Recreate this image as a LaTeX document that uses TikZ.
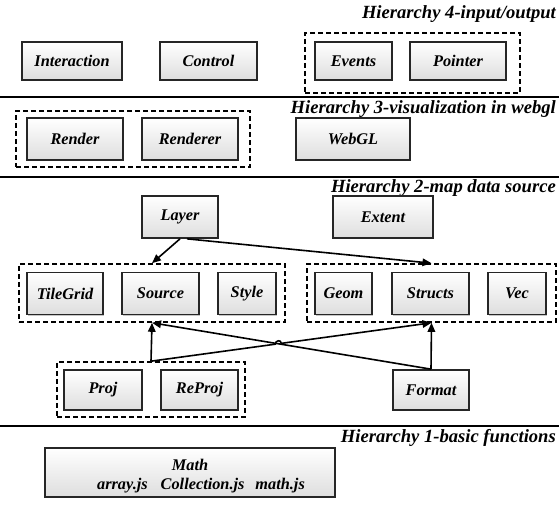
\documentclass[tikz,border=0pt]{standalone}
\usepackage{fontspec}
\setmainfont{Liberation Serif}
\usetikzlibrary{arrows.meta,calc,shadows,intersections}
\begin{document}
\begin{tikzpicture}[x=1pt,y=1pt,
  box/.style={draw=black!85, line width=1.7pt, top color=white, bottom color=black!13,
    drop shadow={shadow xshift=1.4pt, shadow yshift=-1.4pt, fill=black!50, opacity=0.45},
    inner sep=0pt, font=\fontsize{16.3}{19}\selectfont\bfseries\itshape},
  group/.style={draw=black, line width=1.6pt, dash pattern=on 5pt off 3pt, inner sep=0pt},
  sep/.style={line width=2.3pt},
  title/.style={anchor=base east, inner sep=0pt, font=\fontsize{18.6}{21}\selectfont\bfseries\itshape},
  link/.style={line width=1.6pt, -{Triangle[length=9pt,width=7.5pt]}}
]
\useasboundingbox (0,0) rectangle (559,505);

% ---------- Hierarchy 4 ----------
\node[title] (t4) at (556,486) {Hierarchy 4-input/output};
\node[group, minimum width=215pt, minimum height=60pt] (iogrp) at (412.5,442) {};
\node[box, minimum width=100pt, minimum height=38pt] (inter) at (72,444) {Interaction};
\node[box, minimum width=97pt, minimum height=38pt] (ctrl) at (208.5,444) {Control};
\node[box, minimum width=77pt, minimum height=38pt] (events) at (353.5,444) {Events};
\node[box, minimum width=96pt, minimum height=38pt] (pointer) at (458,444) {Pointer};
\draw[sep] (0,408) -- (559,408);

% ---------- Hierarchy 3 ----------
\node[title] (t3) at (556,391) {Hierarchy 3-visualization in webgl};
\node[group, minimum width=234pt, minimum height=56pt] (rgrp) at (133,366) {};
\node[box, minimum width=96pt, minimum height=42pt] (render) at (75,366) {Render};
\node[box, minimum width=96pt, minimum height=42pt] (renderer) at (190,366) {Renderer};
\node[box, minimum width=114pt, minimum height=42pt] (webgl) at (353,366) {WebGL};
\draw[sep] (0,328) -- (559,328);

% ---------- Hierarchy 2 ----------
\node[title] (t2) at (556,312) {Hierarchy 2-map data source};
\node[box, minimum width=76pt, minimum height=42pt] (layer) at (180,288) {Layer};
\node[box, minimum width=100pt, minimum height=42pt] (extent) at (383,288) {Extent};

\node[group, minimum width=266pt, minimum height=58pt] (srcgrp) at (152,212) {};
\node[group, minimum width=249pt, minimum height=58pt] (geogrp) at (431.5,212) {};
\node[box, minimum width=76pt, minimum height=42pt] (tilegrid) at (65,211.5) {TileGrid};
\node[box, minimum width=77pt, minimum height=42pt] (source) at (160.5,211.5) {Source};
\node[box, minimum width=58pt, minimum height=42pt] (style) at (247,211.5) {Style};
\node[box, minimum width=57pt, minimum height=42pt] (geom) at (343.5,211.5) {Geom};
\node[box, minimum width=77pt, minimum height=42pt] (structs) at (430.5,211.5) {Structs};
\node[box, minimum width=58pt, minimum height=42pt] (vec) at (517,211.5) {Vec};

\node[group, minimum width=188pt, minimum height=55pt] (projgrp) at (151,115.5) {};
\node[box, minimum width=78pt, minimum height=40pt] (proj) at (103,115) {Proj};
\node[box, minimum width=77pt, minimum height=40pt] (reproj) at (199.5,115) {ReProj};
\node[box, minimum width=76pt, minimum height=40pt] (format) at (431,115) {Format};

% connectors
\draw[link] (layer.south) -- (srcgrp.north);
\draw[link] ($(layer.south)+(7,0)$) -- (geogrp.north);
\draw[link] (projgrp.north) -- (srcgrp.south);
\draw[link] (format.north) -- (geogrp.south);
\draw[link, name path=fmtsrc] (format.north) -- (srcgrp.south);
\path[name path=projgeo] (projgrp.north) -- (geogrp.south);
\path[name intersections={of=fmtsrc and projgeo, by=xing}];
\coordinate (hopA) at ($(xing)!3pt!(projgrp.north)$);
\coordinate (hopB) at ($(xing)!3pt!(geogrp.south)$);
\draw[link] (projgrp.north) -- (hopA) .. controls +(0,4) and +(0,4) .. (hopB) -- (geogrp.south);
\draw[sep] (0,79) -- (559,79);

% ---------- Hierarchy 1 ----------
\node[title] (t1) at (556,62) {Hierarchy 1-basic functions};
\node[box, minimum width=290pt, minimum height=49pt, align=center] (math) at (190,32.5)
  {\rule{0pt}{19pt}Math\\[0pt]\hspace*{22pt}array.js\hspace{13pt}Collection.js\hspace{11pt}math.js};
\end{tikzpicture}
\end{document}
